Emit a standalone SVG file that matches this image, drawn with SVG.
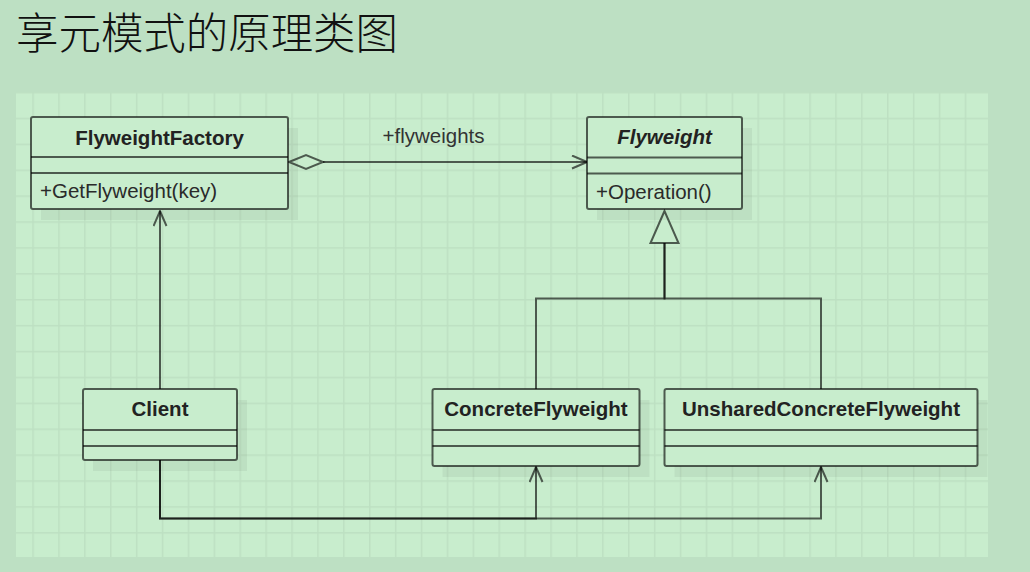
<svg xmlns="http://www.w3.org/2000/svg" width="1030" height="572" viewBox="0 0 1030 572">
<defs>
<pattern id="grid" patternUnits="userSpaceOnUse" x="6.4" y="91.8" width="25.9" height="25.9">
<path d="M0 0.75 H25.9 M0.75 0 V25.9" fill="none" stroke="#bde0c2" stroke-width="1.5"/>
</pattern>
<marker id="open" markerUnits="userSpaceOnUse" viewBox="0 0 17 15" markerWidth="17" markerHeight="15" refX="16" refY="7.5" orient="auto">
<path d="M1,1 L16,7.5 L1,14" fill="none" stroke="#000" stroke-opacity="0.62" stroke-width="2"/>
</marker>
<style>
.box{fill:#c8edcd;stroke:#000;stroke-opacity:0.62;stroke-width:2}
.shadow{fill:#000;fill-opacity:0.05}
.div{stroke:#000;stroke-opacity:0.62;stroke-width:2}
.ttl{font-family:"Liberation Sans",Arial,sans-serif;font-size:20.5px;font-weight:bold;fill:#222;text-anchor:middle}
.mth{font-family:"Liberation Sans",Arial,sans-serif;font-size:20.5px;fill:#2a2a2a}
.ln{fill:none;stroke:#000;stroke-opacity:0.62;stroke-width:2}
.hd{fill:#c8edcd;stroke:#000;stroke-opacity:0.62;stroke-width:2}
</style>
</defs>
<rect width="1030" height="572" fill="#bde0c3"/>
<rect x="16" y="92" width="972" height="465" fill="#c8edcd"/>
<rect x="16" y="92" width="972" height="465" fill="url(#grid)"/>
<text x="16" y="49" font-family="'Noto Sans CJK SC',sans-serif" font-size="43" font-weight="300" fill="#111" textLength="382" lengthAdjust="spacingAndGlyphs">享元模式的原理类图</text>

<g id="connectors">
<line class="ln" x1="323" y1="162" x2="587" y2="162" marker-end="url(#open)"/>
<polygon class="hd" points="289,162 306,155 323,162 306,169"/>
<text x="433.5" y="143" font-family="'Liberation Sans',Arial,sans-serif" font-size="20.5" fill="#333" text-anchor="middle">+flyweights</text>
<line class="ln" x1="160" y1="389" x2="160" y2="211" marker-end="url(#open)"/>
<polyline class="ln" points="536,389 536,298.5 664.5,298.5 664.5,243"/>
<polyline class="ln" points="821,389 821,298.5 664.5,298.5 664.5,243"/>
<polygon class="hd" points="664.5,211 650.5,243 678.5,243"/>
<polyline class="ln" points="160,460 160,518.5 536,518.5 536,467" marker-end="url(#open)"/>
<polyline class="ln" points="160,460 160,518.5 821,518.5 821,467" marker-end="url(#open)"/>
</g>

<g id="flyweight-factory">
<rect class="shadow" x="41" y="128" width="257" height="92"/>
<rect class="box" x="31" y="117" width="257" height="92" rx="2"/>
<line class="div" x1="31" y1="157" x2="288" y2="157"/>
<line class="div" x1="31" y1="173" x2="288" y2="173"/>
<text class="ttl" x="159.5" y="144.5">FlyweightFactory</text>
<text class="mth" x="40" y="198">+GetFlyweight(key)</text>
</g>

<g id="flyweight">
<rect class="shadow" x="597" y="128" width="155" height="92"/>
<rect class="box" x="587" y="117" width="155" height="92" rx="2"/>
<line class="div" x1="587" y1="157.5" x2="742" y2="157.5"/>
<line class="div" x1="587" y1="173.5" x2="742" y2="173.5"/>
<text class="ttl" x="664.5" y="144" font-style="italic">Flyweight</text>
<text class="mth" x="596" y="199">+Operation()</text>
</g>

<g id="client">
<rect class="shadow" x="93" y="400" width="154" height="71"/>
<rect class="box" x="83" y="389" width="154" height="71" rx="2"/>
<line class="div" x1="83" y1="430" x2="237" y2="430"/>
<line class="div" x1="83" y1="446" x2="237" y2="446"/>
<text class="ttl" x="160" y="416">Client</text>
</g>

<g id="concrete-flyweight">
<rect class="shadow" x="442.5" y="400" width="207" height="77"/>
<rect class="box" x="432.5" y="389" width="207" height="77" rx="2"/>
<line class="div" x1="432.5" y1="430" x2="639.5" y2="430"/>
<line class="div" x1="432.5" y1="446" x2="639.5" y2="446"/>
<text class="ttl" x="536" y="416">ConcreteFlyweight</text>
</g>

<g id="unshared-concrete-flyweight">
<rect class="shadow" x="674.5" y="400" width="313" height="77"/>
<rect class="box" x="664.5" y="389" width="313" height="77" rx="2"/>
<line class="div" x1="664.5" y1="430" x2="977.5" y2="430"/>
<line class="div" x1="664.5" y1="446" x2="977.5" y2="446"/>
<text class="ttl" x="821" y="416">UnsharedConcreteFlyweight</text>
</g>
</svg>
